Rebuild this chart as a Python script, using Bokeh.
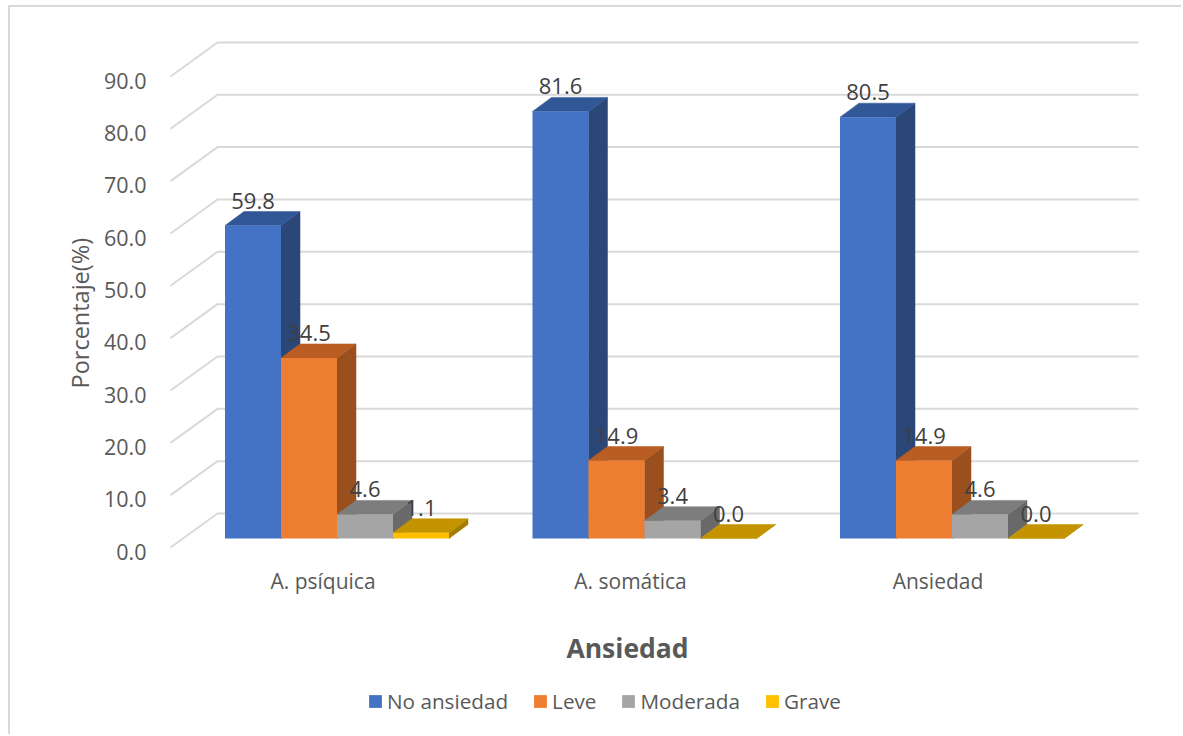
from bokeh.plotting import figure
from bokeh.models import (Range1d, LinearAxis, FixedTicker, Legend, LegendItem, Title)
from bokeh.core.properties import value
from bokeh.embed import file_html
from bokeh.resources import INLINE

categories = ["A. psíquica", "A. somática", "Ansiedad"]
series_names = ["No ansiedad", "Leve", "Moderada", "Grave"]
no_ansiedad = [59.8, 81.6, 80.5]
leve = [34.5, 14.9, 14.9]
moderada = [4.6, 3.4, 4.6]
grave = [1.1, 0.0, 0.0]
y_ticks = [0, 10, 20, 30, 40, 50, 60, 70, 80, 90]

series = [no_ansiedad, leve, moderada, grave]
front = ["#4472C4", "#ED7D31", "#A5A5A5", "#FFC000"]
top_c = ["#325796", "#B95D22", "#7D7D7D", "#C49300"]
side_c = ["#2A4778", "#9A4F1E", "#696969", "#A37C00"]
GREY = "#595959"
FONT = "Open Sans"

# pixel layout of the page; the figure starts OX, OY into the page
W, H = 1183, 736
OX, OY = 10, 7
L, R, T, B = 160, 1145, 30, 736
X0, XP = 336.5, 307.5      # first group centre, group period
Y0, YP = 538.0, 5.234      # bar base, px per unit
px2x = lambda px: (px - X0) / XP
px2y = lambda px: (Y0 - px) / YP

bar_w = 56 / XP
dx = 19 / XP
dy = 14 / YP
back_dy = 25 / YP
front_dy = -9 / YP
wall_front = px2x(170)
wall_back = px2x(217)
wall_end = px2x(1138)

p = figure(width=W - OX, height=H - OY, output_backend="svg", toolbar_location=None,
           x_range=Range1d(px2x(L), px2x(R)), y_range=Range1d(px2y(B), px2y(T)),
           min_border_left=L - OX, min_border_right=W - R, min_border_top=T - OY, min_border_bottom=0,
           x_axis_type=None, y_axis_type=None, outline_line_color=None,
           styles={"margin-left": "8px", "margin-top": "5px",
                   "border-left": "2px solid #D9D9D9", "border-top": "2px solid #D9D9D9"})
p.grid.visible = False

# walls and grid
xs, ys = [], []
for t in y_ticks:
    xs.append([wall_front, wall_back, wall_end])
    ys.append([t + front_dy, t + back_dy, t + back_dy])
p.multi_line(xs, ys, line_color="#D9D9D9", line_width=2)

# bars
legend_items = []
label_x, label_y, label_t = [], [], []
for s, vals in enumerate(series):
    x_left = [g + (s - 2) * bar_w for g in range(len(categories))]
    x_right = [x + bar_w for x in x_left]
    side_xs = [[r, r + dx, r + dx, r] for r in x_right]
    side_ys = [[0, dy, v + dy, v] for v in vals]
    top_xs = [[l, l + dx, r + dx, r] for l, r in zip(x_left, x_right)]
    top_ys = [[v, v + dy, v + dy, v] for v in vals]
    p.patches(side_xs, side_ys, fill_color=side_c[s], line_color=side_c[s], line_width=0.5)
    p.patches(top_xs, top_ys, fill_color=top_c[s], line_color=top_c[s], line_width=0.5)
    r = p.quad(left=x_left, right=x_right, bottom=[0] * len(vals), top=vals,
               fill_color=front[s], line_color=None)
    legend_items.append(LegendItem(label=series_names[s], renderers=[r]))
    for x, v in zip(x_left, vals):
        label_x.append(x + bar_w / 2)
        label_y.append(v + dy)
        label_t.append(f"{v:.1f}")

p.text(label_x, label_y, text=label_t, text_font=value(FONT), text_font_size="22px",
       text_color="#404040", text_align="center", text_baseline="middle", y_offset=-11)

# y axis: its own scale, the tick labels sit on the front edge of the wall
AY0, AYP = 551.0, 5.23
p.extra_y_ranges = {"axis": Range1d((AY0 - B) / AYP, (AY0 - T) / AYP)}
yax = LinearAxis(y_range_name="axis", ticker=FixedTicker(ticks=y_ticks),
                 axis_line_color=None, major_tick_line_color=None, minor_tick_line_color=None,
                 major_label_standoff=8, major_label_text_font=FONT,
                 major_label_text_font_size="21.5px", major_label_text_color=GREY,
                 major_label_overrides={t: f"{t:.1f}" for t in y_ticks})
p.add_layout(yax, "left")
p.add_layout(Title(text="Porcentaje(%)", align="left", offset=B - 388, standoff=9,
                   text_font=FONT, text_font_size="23.5px", text_font_style="normal",
                   text_color=GREY), "left")

# x axis: category labels sit left of the group centre
shift = 14 / XP
p.extra_x_ranges = {"cat": Range1d(px2x(L) + shift, px2x(R) + shift)}
xax = LinearAxis(x_range_name="cat", ticker=FixedTicker(ticks=list(range(len(categories)))),
                 axis_line_color=None, major_tick_line_color=None, minor_tick_line_color=None,
                 major_label_standoff=0, major_label_text_font=FONT,
                 major_label_text_font_size="21px", major_label_text_color=GREY,
                 major_label_overrides={i: c for i, c in enumerate(categories)},
                 fixed_location=px2y(600))
p.add_layout(xax, "above")

p.text([px2x(627)], [px2y(647)], text=["Ansiedad"], text_font=value(FONT), text_font_size="26.5px",
       text_font_style="bold", text_color=GREY, text_align="center", text_baseline="middle")

legend = Legend(items=legend_items, orientation="horizontal", location=(367 - L, B - 715),
                border_line_color=None, background_fill_alpha=0, margin=0, padding=0, spacing=24,
                glyph_width=16, glyph_height=16, label_standoff=4, label_text_font=FONT,
                label_text_font_size="20.7px", label_text_color=GREY)
p.add_layout(legend, "center")

open("out.html", "w").write(file_html(p, INLINE))
